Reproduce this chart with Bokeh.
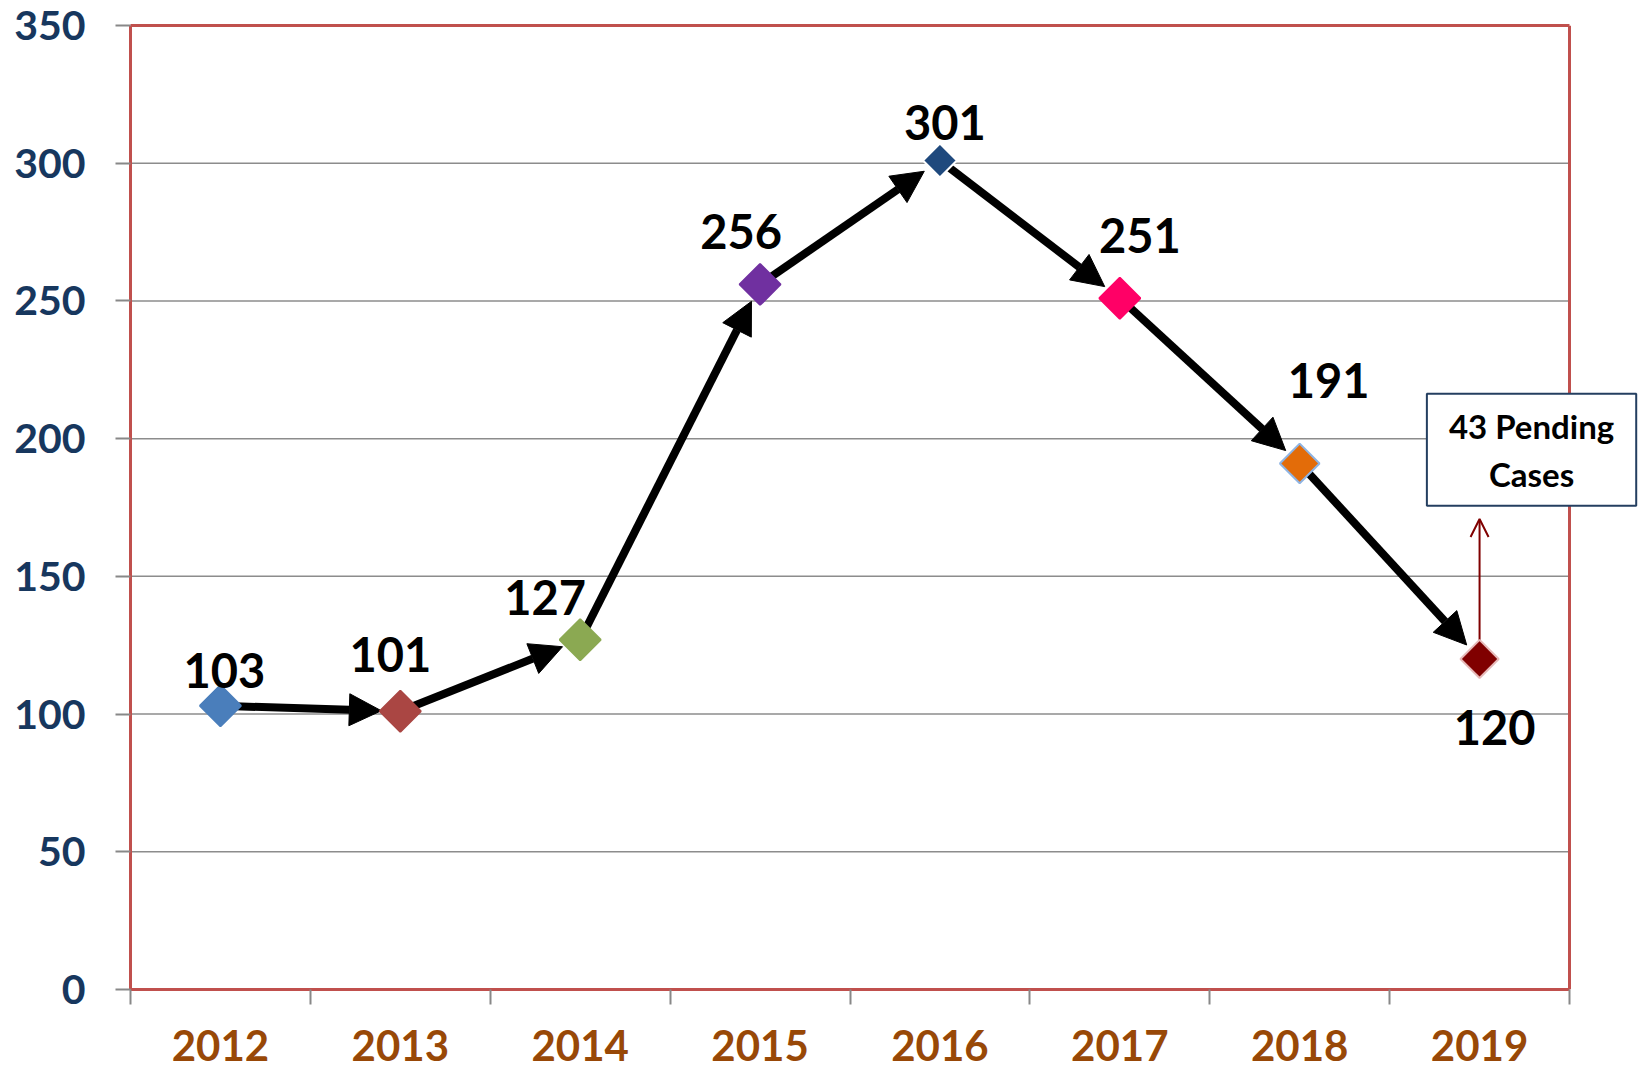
import math
from bokeh.plotting import figure
from bokeh.models import (ColumnDataSource, FixedTicker, Arrow, NormalHead,
                          OpenHead, Label, Range1d, LinearAxis, Span)
from bokeh.core.properties import value
from bokeh.embed import file_html
from bokeh.resources import INLINE

# ---------------- data ----------------
years = ["2012", "2013", "2014", "2015", "2016", "2017", "2018", "2019"]
cases = [103, 101, 127, 256, 301, 251, 191, 120]
pending_cases = 43
y_ticks = [0, 50, 100, 150, 200, 250, 300, 350]
y_max = 350

# ---------------- styles ----------------
marker_fill = ["#4A7EBB", "#AA4643", "#8BA952", "#7030A0",
               "#1F497D", "#FF0066", "#E36C09", "#800000"]
marker_line = ["#4A7EBB", "#AA4643", "#8BA952", "#7030A0",
               "#FFFFFF", "#FF0066", "#8EB4E3", "#E6B9B8"]
marker_size = [29, 29, 29, 29, 24, 29, 28, 27]
label_dx = [4, -10, -35, -19, 5, 20, 29, 15]
label_dy = [-35, -57, -42, -53, -38, -63, -83, 69]

W, H = 1640, 1070
ML, MT = 130, 25
plot_w = 1439            # pixel width of the bordered chart area
frame_bottom = 989
MB = H - frame_bottom
frame_h = H - MT - MB
n = len(years)
px_x = plot_w / n
px_y = frame_h / y_max
x_end = (W - ML) / px_x   # frame extends right so the note box fits

FONT = "Lato"
BORDER = "#C0504D"

p = figure(width=W, height=H, x_range=Range1d(0, x_end), y_range=Range1d(0, y_max),
           output_backend="svg", toolbar_location=None,
           min_border_left=ML, min_border_right=0, min_border_top=MT,
           min_border_bottom=MB)
p.background_fill_color = "white"
p.border_fill_color = "white"
p.outline_line_color = None
p.xgrid.grid_line_color = None
p.ygrid.grid_line_color = None

# x axis: labels at category centers, tick marks at boundaries (minor ticks)
centers = [i + 0.5 for i in range(n)]
xax = p.xaxis[0]
xax.bounds = (0, n)
xax.ticker = FixedTicker(ticks=centers, minor_ticks=list(range(n + 1)))
xax.major_label_overrides = {c: y for c, y in zip(centers, years)}
xax.major_tick_out = 0
xax.major_tick_in = 0
xax.minor_tick_out = 15
xax.minor_tick_in = 0
xax.minor_tick_line_color = "#888888"
xax.minor_tick_line_width = 2
xax.axis_line_color = BORDER
xax.axis_line_width = 3
xax.major_label_standoff = 25
xax.major_label_text_font = FONT
xax.major_label_text_font_style = "bold"
xax.major_label_text_font_size = "42px"
xax.major_label_text_color = "#984807"

yax = p.yaxis[0]
yax.ticker = FixedTicker(ticks=y_ticks, minor_ticks=[])
yax.major_tick_out = 15
yax.major_tick_in = 0
yax.major_tick_line_color = "#888888"
yax.major_tick_line_width = 2
yax.axis_line_color = BORDER
yax.axis_line_width = 3
yax.major_label_standoff = 30
yax.major_label_text_font = FONT
yax.major_label_text_font_style = "bold"
yax.major_label_text_font_size = "41px"
yax.major_label_text_color = "#17375E"

# top border as an axis line
top = LinearAxis(ticker=FixedTicker(ticks=[]), bounds=(0, n),
                 axis_line_color=BORDER, axis_line_width=3,
                 major_tick_out=0, major_tick_in=0, minor_tick_out=0,
                 major_label_standoff=0, major_label_text_font_size="0px")
p.add_layout(top, "above")
# right border
p.add_layout(Span(location=n, dimension="height", line_color=BORDER, line_width=3))

# horizontal gridlines inside the bordered area
grid_y = y_ticks[1:-1]
p.segment(x0=[0] * len(grid_y), x1=[n] * len(grid_y), y0=grid_y, y1=grid_y,
          line_color="#8C8C8C", line_width=1.5, level="image")

# ---------------- arrows between points ----------------
shrink_px = 19
for i in range(n - 1):
    x0, y0 = centers[i], cases[i]
    x1, y1 = centers[i + 1], cases[i + 1]
    dxp = (x1 - x0) * px_x
    dyp = (y1 - y0) * px_y
    L = math.hypot(dxp, dyp)
    f = 1 - shrink_px / L
    arr = Arrow(x_start=x0, y_start=y0,
                x_end=x0 + (x1 - x0) * f, y_end=y0 + (y1 - y0) * f,
                line_color="black", line_width=8,
                end=NormalHead(size=32, fill_color="black", line_color="black"),
                level="underlay")
    p.add_layout(arr)

# pending arrow
pend_len_px = 140
pend = Arrow(x_start=centers[-1], y_start=cases[-1],
             x_end=centers[-1], y_end=cases[-1] + pend_len_px / px_y,
             line_color="#800000", line_width=2,
             end=OpenHead(size=18, line_color="#800000", line_width=2),
             level="underlay")
p.add_layout(pend)

# ---------------- markers ----------------
src = ColumnDataSource(dict(x=centers, y=cases, fill=marker_fill, line=marker_line,
                            size=marker_size, text=[str(c) for c in cases],
                            dx=label_dx, dy=label_dy))
p.scatter(x="x", y="y", source=src, marker="square", angle=math.pi / 4,
          size="size", fill_color="fill", line_color="line", line_width=2)

p.text(x="x", y="y", text="text", x_offset="dx", y_offset="dy", source=src,
       text_font=value(FONT), text_font_style="bold", text_font_size="47px",
       text_color="black", text_align="center", text_baseline="middle")

# ---------------- pending box ----------------
box = Label(x=n - 0.211, y=196, text=f"{pending_cases} Pending\nCases",
            text_font=FONT, text_font_style="bold", text_font_size="33px",
            text_color="black", text_align="center", text_baseline="middle",
            text_line_height=1.2,
            background_fill_color="white", border_line_color="#243F60",
            border_line_width=2,
            padding=dict(left=22, right=22, top=12, bottom=12))
p.add_layout(box)

open("out.html", "w").write(file_html(p, INLINE))
